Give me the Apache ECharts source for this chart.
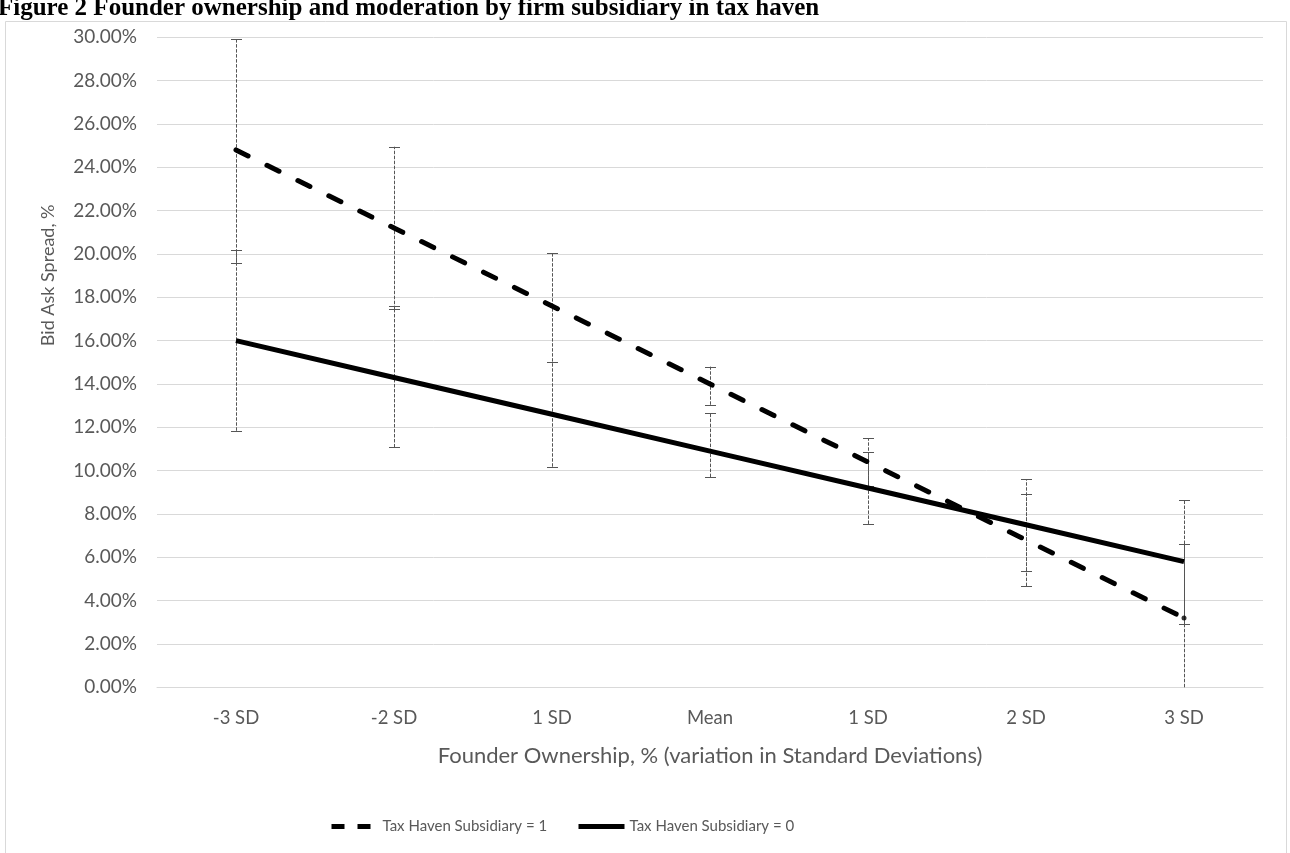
<!DOCTYPE html>
<html>
<head>
<meta charset="utf-8">
<script src="https://cdn.jsdelivr.net/npm/echarts@6/dist/echarts.min.js"></script>
<style>
html,body{margin:0;padding:0;background:#fff;}
#c{width:1290px;height:853px;}
</style>
</head>
<body>
<div id="c"></div>
<script>
// ---- data ----
const titleText = 'Figure 2 Founder ownership and moderation by firm subsidiary in tax haven';
const xLabels = ['-3 SD', '-2 SD', '1 SD', 'Mean', '1 SD', '2 SD', '3 SD'];
const seriesNames = ['Tax Haven Subsidiary = 1', 'Tax Haven Subsidiary = 0'];
// Bid ask spread, % (Tax Haven Subsidiary = 1)
const haven1 = [24.8, 21.2, 17.6, 14.0, 10.4, 6.8, 3.2];
const haven1Low = [19.6, 17.45, 15.03, 13.04, 9.3, 4.67, -0.24];
const haven1High = [29.92, 24.95, 20.06, 14.8, 11.5, 8.92, 6.6];
// Bid ask spread, % (Tax Haven Subsidiary = 0)
const haven0 = [16.0, 14.3, 12.6, 10.9, 9.2, 7.5, 5.8];
const haven0Low = [11.84, 11.07, 10.18, 9.7, 7.54, 5.38, 2.92];
const haven0High = [20.18, 17.6, 15.03, 12.67, 10.84, 9.6, 8.64];
const yTicks = [0, 30, 2]; // min, max, step

const FONT = 'Lato, "Open Sans", sans-serif';
const GREY = '#595959';

function errData(low, high) {
  return low.map((l, i) => [i, l, high[i]]);
}

function renderErr(params, api) {
  const x = api.value(0);
  const lo = api.coord([x, api.value(1)]);
  const hi = api.coord([x, api.value(2)]);
  const cs = params.coordSys;
  const bottom = cs.y + cs.height;
  const top = cs.y;
  const cx = Math.round(lo[0]) + 0.5;
  let y1 = lo[1], y2 = hi[1];
  const children = [];
  const capHalf = 5.5;
  const showLoCap = y1 <= bottom + 0.5;
  const showHiCap = y2 >= top - 0.5;
  y1 = Math.min(y1, bottom);
  y2 = Math.max(y2, top);
  children.push({
    type: 'line',
    shape: {x1: cx, y1: y1, x2: cx, y2: y2},
    style: {stroke: '#555', lineWidth: 1, lineDash: [3.5, 1.5]}
  });
  if (showLoCap) children.push({
    type: 'line',
    shape: {x1: cx - capHalf, y1: Math.round(lo[1]) + 0.5, x2: cx + capHalf, y2: Math.round(lo[1]) + 0.5},
    style: {stroke: '#555', lineWidth: 1}
  });
  if (showHiCap) children.push({
    type: 'line',
    shape: {x1: cx - capHalf, y1: Math.round(hi[1]) + 0.5, x2: cx + capHalf, y2: Math.round(hi[1]) + 0.5},
    style: {stroke: '#555', lineWidth: 1}
  });
  return {type: 'group', children: children};
}

const chart = echarts.init(document.getElementById('c'), null, {renderer: 'canvas'});
chart.setOption({
  animation: false,
  backgroundColor: '#fff',
  title: {
    text: titleText,
    left: -2,
    top: -4,
    padding: 0,
    textStyle: {fontFamily: '"Liberation Serif", "DejaVu Serif", serif', fontWeight: 'bold', fontSize: 25, color: '#000'}
  },
  graphic: [{
    type: 'rect',
    z: -10,
    shape: {x: 5.5, y: 21.5, width: 1281, height: 900},
    style: {fill: '#fff', stroke: '#d9d9d9', lineWidth: 1}
  }],
  grid: {left: 157, right: 27, top: 37.3, bottom: 165.7, containLabel: false},
  legend: [{
    data: [{name: seriesNames[0], lineStyle: {type: [13, 13], cap: 'butt', width: 5, color: '#000'}}],
    left: 329, top: 819, padding: 0,
    itemWidth: 46, itemHeight: 12, itemGap: 5,
    itemStyle: {opacity: 0},
    textStyle: {fontFamily: FONT, fontSize: 15, color: GREY}
  }, {
    data: [{name: seriesNames[1], lineStyle: {type: 'solid', cap: 'butt', width: 5, color: '#000'}}],
    left: 576, top: 819, padding: 0,
    itemWidth: 46, itemHeight: 12, itemGap: 5,
    itemStyle: {opacity: 0},
    textStyle: {fontFamily: FONT, fontSize: 15, color: GREY}
  }],
  xAxis: {
    type: 'category',
    data: xLabels.map((l, i) => String(i)),
    boundaryGap: true,
    name: 'Founder Ownership, % (variation in Standard Deviations)',
    nameLocation: 'middle',
    nameGap: 58,
    nameTextStyle: {fontFamily: FONT, fontSize: 22, color: GREY},
    axisLine: {show: true, lineStyle: {color: '#d9d9d9', width: 1}},
    axisTick: {show: false},
    axisLabel: {formatter: (v, i) => xLabels[i], fontFamily: FONT, fontSize: 18.5, color: GREY, margin: 21}
  },
  yAxis: {
    type: 'value',
    min: yTicks[0], max: yTicks[1], interval: yTicks[2],
    name: 'Bid Ask Spread, %',
    nameLocation: 'middle',
    nameRotate: 90,
    nameGap: 100,
    nameTextStyle: {fontFamily: FONT, fontSize: 18, color: GREY, padding: [0, 0, 0, 174]},
    axisLine: {show: false},
    axisTick: {show: false},
    splitLine: {show: true, lineStyle: {color: '#d9d9d9', width: 1}},
    axisLabel: {formatter: v => v.toFixed(2) + '%', fontFamily: FONT, fontSize: 19, color: GREY, margin: 20}
  },
  series: [{
    name: 'err1',
    type: 'custom',
    renderItem: renderErr,
    data: errData(haven1Low, haven1High),
    z: 1, silent: true
  }, {
    name: 'err0',
    type: 'custom',
    renderItem: renderErr,
    data: errData(haven0Low, haven0High),
    z: 1, silent: true
  }, {
    name: seriesNames[0],
    type: 'line',
    data: haven1,
    symbol: 'none',
    z: 3,
    lineStyle: {color: '#000', width: 5, type: [13.5, 21], cap: 'round'},
    itemStyle: {color: '#000'}
  }, {
    name: seriesNames[1],
    type: 'line',
    data: haven0,
    symbol: 'none',
    z: 3,
    lineStyle: {color: '#000', width: 5, type: 'solid', cap: 'butt'},
    itemStyle: {color: '#000'}
  }, {
    name: 'endDot',
    type: 'scatter',
    data: [[String(xLabels.length - 1), haven1[haven1.length - 1]]],
    symbol: 'circle',
    symbolSize: 5,
    itemStyle: {color: '#000'},
    z: 4, silent: true
  }]
});
</script>
</body>
</html>
